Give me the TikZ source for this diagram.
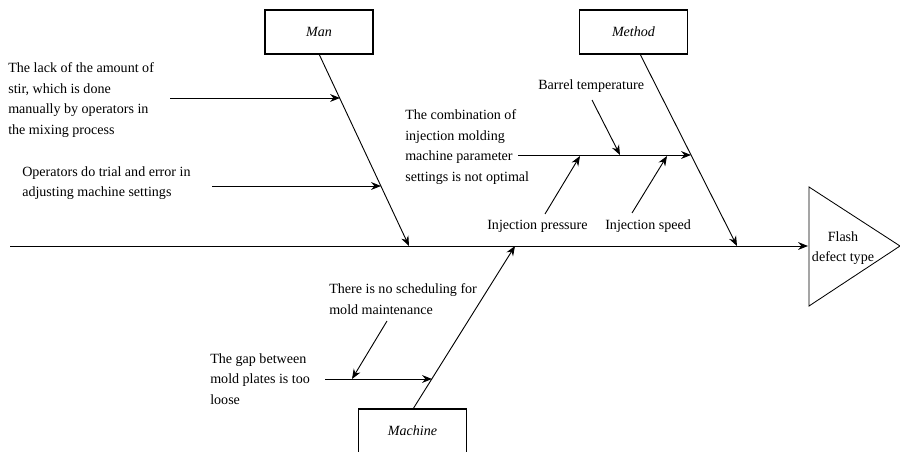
\documentclass[tikz,border=0pt]{standalone}
\usepackage{fontspec}
\setmainfont{Liberation Serif}
\usetikzlibrary{arrows.meta}

\tikzset{
  catbox/.style={draw,line width=0.8pt,minimum width=2.7cm,minimum height=1.1cm,font=\fontsize{10}{12}\selectfont\itshape},
  causetext/.style={anchor=west,align=left,inner sep=0pt,font=\fontsize{10}{14.6}\selectfont},
  bone/.style={line width=0.65pt,-{Stealth[length=7pt,width=5.5pt]}}
}

\begin{document}
\begin{tikzpicture}[x=0.025cm,y=-0.025cm]
\clip (0,0) rectangle (900,452);
\node[catbox] (man) at (319,32) {Man};
\node[catbox] (method) at (633.5,32) {Method};
\node[catbox] (machine) at (412.5,431) {Machine};
\coordinate (spinestart) at (10,246);
\coordinate (effectleft) at (808,246);
\draw[line width=0.6pt] (809,187) -- (900,246) -- (809,306) -- cycle;
\node[causetext,anchor=center,align=center] (effect) at (843,248) {Flash\\defect type};
\draw[bone] (spinestart) -- (effectleft);
\coordinate (mantail) at (319,54);
\coordinate (manhead) at (409,246);
\coordinate (methtail) at (640,54);
\coordinate (methhead) at (737,246);
\coordinate (machtail) at (413,409);
\coordinate (machhead) at (515,246);
\draw[bone] (mantail) -- (manhead);
\draw[bone] (methtail) -- (methhead);
\draw[bone] (machtail) -- (machhead);
\node[causetext] (lack) at (8,100) {The lack of the amount of\\stir, which is done\\manually by operators in\\the mixing process};
\coordinate (lackfree) at (170,98);
\coordinate (lackhit) at (340,98);
\draw[bone] (lackfree) -- (lackhit);
\node[causetext] (trial) at (22,183) {Operators do trial and error in\\adjusting machine settings};
\coordinate (trialfree) at (212,186);
\coordinate (trialhit) at (381,186);
\draw[bone] (trialfree) -- (trialhit);
\node[causetext] (combo) at (405,147) {The combination of\\injection molding\\machine parameter\\settings is not optimal};
\coordinate (combofree) at (518,155);
\coordinate (combohit) at (691,155);
\draw[bone] (combofree) -- (combohit);
\node[causetext] (barrel) at (538,86) {Barrel temperature};
\coordinate (barreltail) at (592,100);
\coordinate (barrelhit) at (620,155);
\draw[bone] (barreltail) -- (barrelhit);
\node[causetext] (pressure) at (487,226) {Injection pressure};
\coordinate (pressuretail) at (545,214);
\coordinate (pressurehit) at (580,156);
\draw[bone] (pressuretail) -- (pressurehit);
\node[causetext] (speed) at (605,226) {Injection speed};
\coordinate (speedtail) at (632,213);
\coordinate (speedhit) at (667,156);
\draw[bone] (speedtail) -- (speedhit);
\node[causetext] (gap) at (210,379) {The gap between\\mold plates is too\\loose};
\coordinate (gapfree) at (325,379);
\coordinate (gaphit) at (432,379);
\draw[bone] (gapfree) -- (gaphit);
\node[causetext] (sched) at (329,299) {There is no scheduling for\\mold maintenance};
\coordinate (schedtail) at (387,321);
\coordinate (schedhit) at (352,379);
\draw[bone] (schedtail) -- (schedhit);
\end{tikzpicture}
\end{document}
